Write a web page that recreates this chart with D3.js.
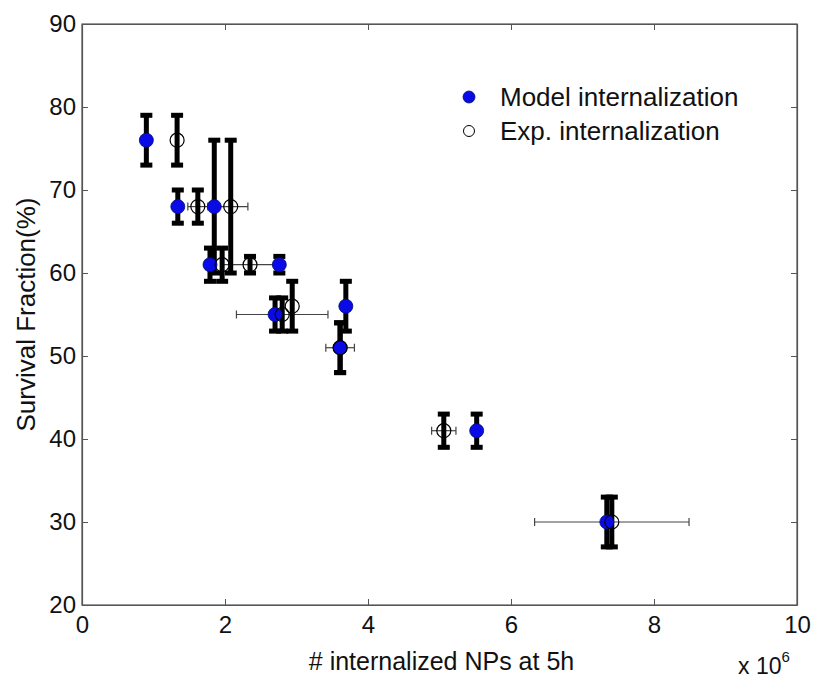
<!DOCTYPE html>
<html>
<head>
<meta charset="utf-8">
<script src="https://cdn.jsdelivr.net/npm/d3@7"></script>
<style>
  body { margin: 0; background: #fff; }
  svg text { font-family: "Liberation Sans", Arial, Helvetica, sans-serif; fill: #111; }
</style>
</head>
<body>
<div id="chart"></div>
<script>
'use strict';

// values (x in units of 10^6)
const modelX = [0.90, 1.34, 1.85, 1.79, 2.76, 2.70, 3.69, 3.61, 5.52, 7.34];
const modelY = [76, 68, 68, 61, 61, 55, 56, 51, 41, 30];
const modelYErr = [3, 2, 8, 2, 1, 2, 3, 3, 2, 3];

const expX = [1.33, 1.62, 2.08, 1.96, 2.35, 2.80, 2.94, 3.61, 5.06, 7.41];
const expY = [76, 68, 68, 61, 61, 55, 56, 51, 41, 30];
const expYErr = [3, 2, 8, 2, 1, 2, 3, 3, 2, 3];
const expXErr = [0, 0.14, 0.24, 0, 0.40, 0.64, 0, 0.20, 0.17, 1.08];

const xTicks = [0, 2, 4, 6, 8, 10];
const yTicks = [20, 30, 40, 50, 60, 70, 80, 90];
const legendLabels = ['Model internalization', 'Exp. internalization'];

const colors = {
  'Blue': '#0a0ae6',
  'Axis': '#555',
  'Bar': '#000',
  'Thin': '#444'
};

const width = 816, height = 680;
const margin = {top: 24, right: 19, bottom: 75, left: 82};

const svg = d3.select('#chart').append('svg')
  .attr('width', width)
  .attr('height', height);

const x = d3.scaleLinear().domain([0, 10]).range([margin.left, width - margin.right]);
const y = d3.scaleLinear().domain([20, 90]).range([height - margin.bottom, margin.top]);

const model = modelX.map((d, i) => ({x: d, y: modelY[i], ye: modelYErr[i]}));
const exp = expX.map((d, i) => ({x: d, y: expY[i], ye: expYErr[i], xe: expXErr[i]}));

// box
svg.append('rect')
  .attr('x', x(0)).attr('y', y(90))
  .attr('width', x(10) - x(0)).attr('height', y(20) - y(90))
  .attr('fill', 'none').attr('stroke', colors['Axis']).attr('stroke-width', 1.2);

// axes, ticks pointing inward
const xAxis = svg.append('g')
  .attr('transform', `translate(0,${y(20)})`)
  .call(d3.axisBottom(x).tickValues(xTicks).tickSizeInner(-6).tickSizeOuter(0).tickPadding(11));
const yAxis = svg.append('g')
  .attr('transform', `translate(${x(0)},0)`)
  .call(d3.axisLeft(y).tickValues(yTicks).tickSizeInner(-6).tickSizeOuter(0).tickPadding(6));
svg.append('g')
  .attr('transform', `translate(0,${y(90)})`)
  .call(d3.axisTop(x).tickValues(xTicks).tickSizeInner(-6).tickSizeOuter(0).tickFormat(''));
svg.append('g')
  .attr('transform', `translate(${x(10)},0)`)
  .call(d3.axisRight(y).tickValues(yTicks).tickSizeInner(-6).tickSizeOuter(0).tickFormat(''));

svg.selectAll('.domain').attr('stroke', colors['Axis']).attr('stroke-width', 1.2);
svg.selectAll('.tick line').attr('stroke', colors['Axis']);
xAxis.selectAll('text').style('font-size', '24px').attr('dy', '0.71em');
yAxis.selectAll('text').style('font-size', '24px');

// axis titles
svg.append('text')
  .attr('x', (x(0) + x(10)) / 2 + 2).attr('y', 670)
  .attr('text-anchor', 'middle')
  .style('font-size', '25px')
  .text('# internalized NPs at 5h');

const exponent = svg.append('text')
  .attr('x', 738).attr('y', 674)
  .style('font-size', '23px');
exponent.append('tspan').text('x 10');
exponent.append('tspan').attr('dy', -12).style('font-size', '15px').text('6');

svg.append('text')
  .attr('transform', `translate(35,${(y(20) + y(90)) / 2}) rotate(-90)`)
  .attr('text-anchor', 'middle')
  .style('font-size', '26px')
  .text('Survival Fraction(%)');

// thin horizontal error bars for the experiment
const xErr = svg.append('g')
  .selectAll('g')
  .data(exp.filter(d => d.xe > 0))
  .enter().append('g')
  .attr('stroke', colors['Thin']).attr('stroke-width', 1.2);
xErr.append('line')
  .attr('x1', d => x(d.x - d.xe)).attr('x2', d => x(d.x + d.xe))
  .attr('y1', d => y(d.y)).attr('y2', d => y(d.y));
xErr.append('line')
  .attr('x1', d => x(d.x - d.xe)).attr('x2', d => x(d.x - d.xe))
  .attr('y1', d => y(d.y) - 4).attr('y2', d => y(d.y) + 4);
xErr.append('line')
  .attr('x1', d => x(d.x + d.xe)).attr('x2', d => x(d.x + d.xe))
  .attr('y1', d => y(d.y) - 4).attr('y2', d => y(d.y) + 4);

// thick vertical error bars
function drawYErr(data) {
  const g = svg.append('g')
    .selectAll('g')
    .data(data)
    .enter().append('g')
    .attr('fill', colors['Bar']);
  g.append('rect')
    .attr('x', d => x(d.x) - 2.5).attr('width', 5)
    .attr('y', d => y(d.y + d.ye)).attr('height', d => y(d.y - d.ye) - y(d.y + d.ye));
  g.append('rect')
    .attr('x', d => x(d.x) - 6).attr('width', 12)
    .attr('y', d => y(d.y + d.ye) - 2.5).attr('height', 5);
  g.append('rect')
    .attr('x', d => x(d.x) - 6).attr('width', 12)
    .attr('y', d => y(d.y - d.ye) - 2.5).attr('height', 5);
}
drawYErr(model);
drawYErr(exp);

// markers
svg.append('g')
  .selectAll('circle')
  .data(model)
  .enter().append('circle')
  .attr('cx', d => x(d.x)).attr('cy', d => y(d.y)).attr('r', 7)
  .attr('fill', colors['Blue']).attr('stroke', '#001070').attr('stroke-width', 0.8);

svg.append('g')
  .selectAll('circle')
  .data(exp)
  .enter().append('circle')
  .attr('cx', d => x(d.x)).attr('cy', d => y(d.y)).attr('r', 7)
  .attr('fill', 'none').attr('stroke', '#000').attr('stroke-width', 1.2);

// legend
const legend = svg.append('g');
legend.append('circle')
  .attr('cx', 469).attr('cy', 97).attr('r', 6)
  .attr('fill', colors['Blue']).attr('stroke', '#001070').attr('stroke-width', 0.8);
legend.append('circle')
  .attr('cx', 469).attr('cy', 131).attr('r', 5.5)
  .attr('fill', 'none').attr('stroke', '#000').attr('stroke-width', 1);
legend.selectAll('text')
  .data(legendLabels)
  .enter().append('text')
  .attr('x', 500).attr('y', (d, i) => 97 + i * 34)
  .attr('dy', '0.35em')
  .style('font-size', '26px')
  .text(d => d);
</script>
</body>
</html>
